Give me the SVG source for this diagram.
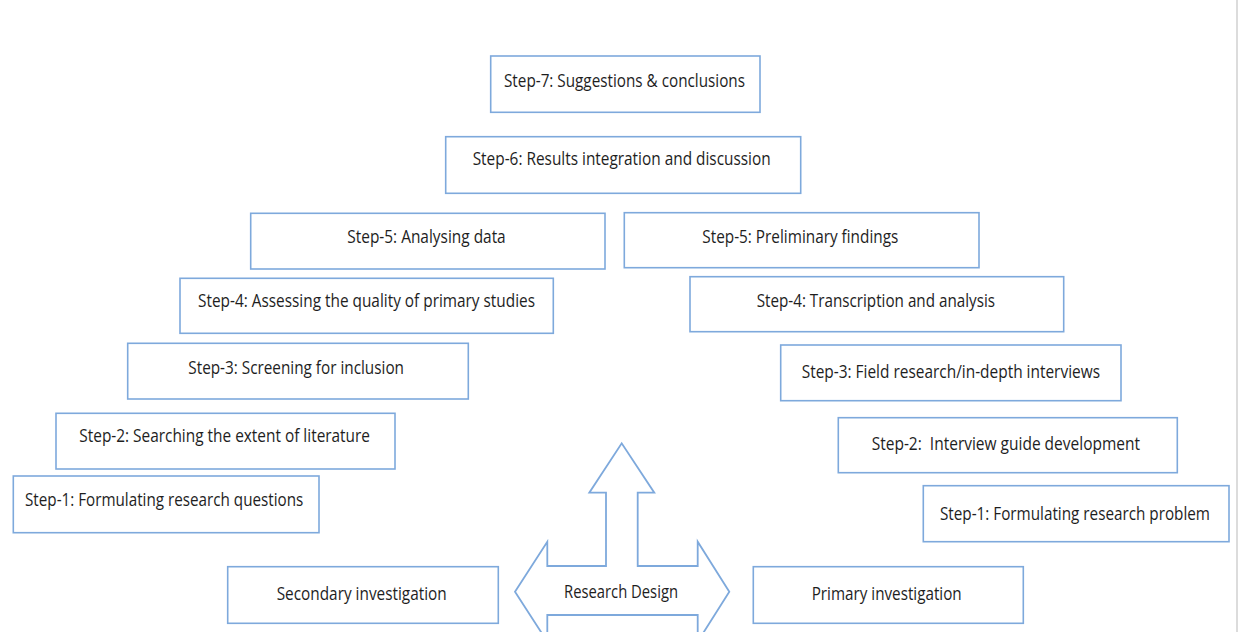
<svg xmlns="http://www.w3.org/2000/svg" width="1240" height="632" viewBox="0 0 1240 632">
<style>
.box{fill:#ffffff;stroke:#7ea9dc;stroke-width:1.6}
.t{font-family:"Open Sans","Noto Sans","Liberation Sans",sans-serif;font-size:19px;fill:#1e1e1e}
.arrow{fill:#ffffff;stroke:#7ea9dc;stroke-width:1.8;stroke-linejoin:miter}
</style>
<rect x="0" y="0" width="1240" height="632" fill="#ffffff"/>
<line x1="1237" y1="0" x2="1237" y2="632" stroke="#dcdcdc" stroke-width="2"/>
<g id="connectors">
<path class="arrow" d="M547.3,566 L547.3,541.7 L515,591.7 L547.3,641.7 L547.3,615 L697.7,615 L697.7,641.7 L729.3,591.7 L697.7,541.7 L697.7,566 L637.7,566 L637.7,492.7 L654.3,492.7 L621.7,443.3 L589.3,492.7 L606,492.7 L606,566 Z"/>
</g>
<g id="research-design"><text class="t" x="564" y="598.3" textLength="114" lengthAdjust="spacingAndGlyphs">Research Design</text></g>
<g id="step7"><rect class="box" x="490.7" y="56" width="269.3" height="56.3"/><text class="t" x="504" y="86.7" textLength="241" lengthAdjust="spacingAndGlyphs">Step-7: Suggestions &amp; conclusions</text></g>
<g id="step6"><rect class="box" x="445.7" y="136.7" width="355" height="56.6"/><text class="t" x="472.7" y="165" textLength="298" lengthAdjust="spacingAndGlyphs">Step-6: Results integration and discussion</text></g>
<g id="step5-left"><rect class="box" x="250.7" y="213.3" width="354.3" height="55.7"/><text class="t" x="347.3" y="243.3" textLength="158.4" lengthAdjust="spacingAndGlyphs">Step-5: Analysing data</text></g>
<g id="step5-right"><rect class="box" x="624.3" y="212.7" width="354.7" height="55"/><text class="t" x="702.3" y="242.7" textLength="196" lengthAdjust="spacingAndGlyphs">Step-5: Preliminary findings</text></g>
<g id="step4-left"><rect class="box" x="180" y="278.3" width="373.3" height="55"/><text class="t" x="198" y="307.3" textLength="337" lengthAdjust="spacingAndGlyphs">Step-4: Assessing the quality of primary studies</text></g>
<g id="step4-right"><rect class="box" x="690" y="276.7" width="373.7" height="55"/><text class="t" x="756.7" y="307.3" textLength="238.3" lengthAdjust="spacingAndGlyphs">Step-4: Transcription and analysis</text></g>
<g id="step3-left"><rect class="box" x="127.7" y="343.3" width="340.6" height="55.7"/><text class="t" x="188.3" y="374.3" textLength="215.7" lengthAdjust="spacingAndGlyphs">Step-3: Screening for inclusion</text></g>
<g id="step3-right"><rect class="box" x="780.7" y="345" width="340.3" height="55.7"/><text class="t" x="801.7" y="377.7" textLength="298.3" lengthAdjust="spacingAndGlyphs">Step-3: Field research/in-depth interviews</text></g>
<g id="step2-left"><rect class="box" x="56" y="413.3" width="339" height="55.7"/><text class="t" x="79.3" y="441.7" textLength="290.7" lengthAdjust="spacingAndGlyphs">Step-2: Searching the extent of literature</text></g>
<g id="step2-right"><rect class="box" x="838.3" y="417.7" width="339" height="55"/><text class="t" x="871.7" y="450" textLength="268.3" lengthAdjust="spacingAndGlyphs" xml:space="preserve">Step-2:  Interview guide development</text></g>
<g id="step1-left"><rect class="box" x="13.3" y="476" width="305.7" height="56.7"/><text class="t" x="25" y="506" textLength="278.3" lengthAdjust="spacingAndGlyphs">Step-1: Formulating research questions</text></g>
<g id="step1-right"><rect class="box" x="923.3" y="485.7" width="305.7" height="56"/><text class="t" transform="translate(940,520) scale(0.85,1)" x="0" y="0" textLength="317.6" lengthAdjust="spacingAndGlyphs">Step-1: Formulating research problem</text></g>
<g id="secondary"><rect class="box" x="227.7" y="566.7" width="270.6" height="56.6"/><text class="t" x="276.7" y="600" textLength="170" lengthAdjust="spacingAndGlyphs">Secondary investigation</text></g>
<g id="primary"><rect class="box" x="753.3" y="566.7" width="270" height="56.6"/><text class="t" x="811.7" y="600" textLength="150" lengthAdjust="spacingAndGlyphs">Primary investigation</text></g>
</svg>
